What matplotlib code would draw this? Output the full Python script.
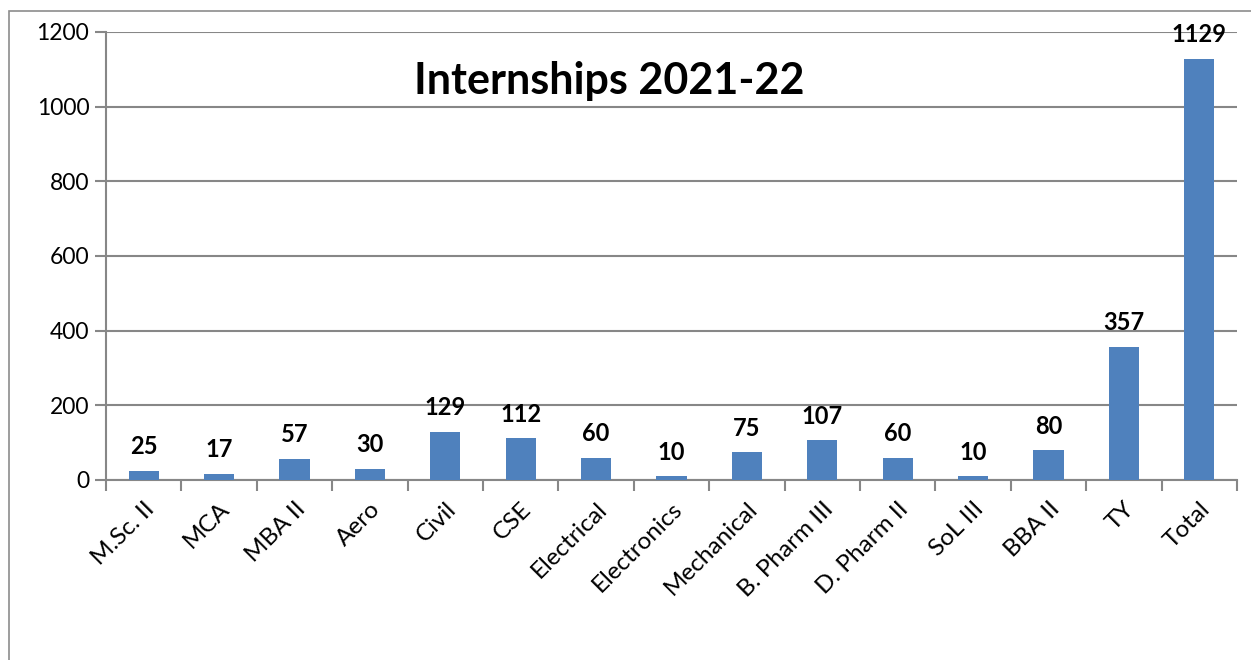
import matplotlib.pyplot as plt
from matplotlib.patches import Rectangle

plt.rcParams['font.family'] = ['Lato', 'DejaVu Sans']

categories = ['M.Sc. II', 'MCA', 'MBA II', 'Aero', 'Civil', 'CSE', 'Electrical',
              'Electronics', 'Mechanical', 'B. Pharm III', 'D. Pharm II', 'SoL III',
              'BBA II', 'TY', 'Total']
counts = [25, 17, 57, 30, 129, 112, 60, 10, 75, 107, 60, 10, 80, 357, 1129]
yticks = [0, 200, 400, 600, 800, 1000, 1200]

BAR_COLOR = '#4F81BD'
GRID_COLOR = '#878787'

fig = plt.figure(figsize=(12.51, 6.6), dpi=100)
ax = fig.add_axes([106/1251, 1 - 480/660, (1237-106)/1251, (480-32)/660])

# chart frame (only left and top edges visible in the crop)
fig.patches.append(Rectangle((9/1251, -0.1), 1.2, 1 - 11/660 + 0.1, transform=fig.transFigure,
                             fill=False, edgecolor='#8c8c8c', linewidth=1.2))

x = range(len(categories))
bars = ax.bar(x, counts, width=0.4, color=BAR_COLOR, zorder=3)
for b, v in zip(bars, counts):
    ax.annotate(str(v), (b.get_x() + b.get_width()/2, v), xytext=(0, 9),
                textcoords='offset points', ha='center', va='bottom',
                fontsize=17, fontweight='bold', zorder=4)

ax.set_xlim(-0.5, len(categories) - 0.5)
ax.set_ylim(0, 1200)
ax.set_yticks(yticks)
ax.set_yticklabels([str(t) for t in yticks], fontsize=16.5)
ax.yaxis.grid(True, color=GRID_COLOR, linewidth=1.5, zorder=0)
ax.tick_params(axis='y', length=8, width=1.5, color=GRID_COLOR, pad=4)

ax.set_xticks([i - 0.5 for i in range(len(categories) + 1)], minor=False)
ax.set_xticklabels([''] * (len(categories) + 1))
ax.tick_params(axis='x', length=8, width=1.5, color=GRID_COLOR)
ax.set_xticks(list(x), minor=True)
ax.set_xticklabels(categories, minor=True, rotation=45, ha='right', rotation_mode='anchor',
                   fontsize=17.5)
ax.tick_params(axis='x', which='minor', length=0, pad=13)

for s in ['top', 'right']:
    ax.spines[s].set_visible(False)
for s in ['left', 'bottom']:
    ax.spines[s].set_color(GRID_COLOR)
    ax.spines[s].set_linewidth(1.5)

ax.text(0.445, 0.89, 'Internships 2021-22', transform=ax.transAxes, ha='center', va='center',
        fontsize=31, fontweight='bold')

fig.savefig('out.png', dpi=100)
